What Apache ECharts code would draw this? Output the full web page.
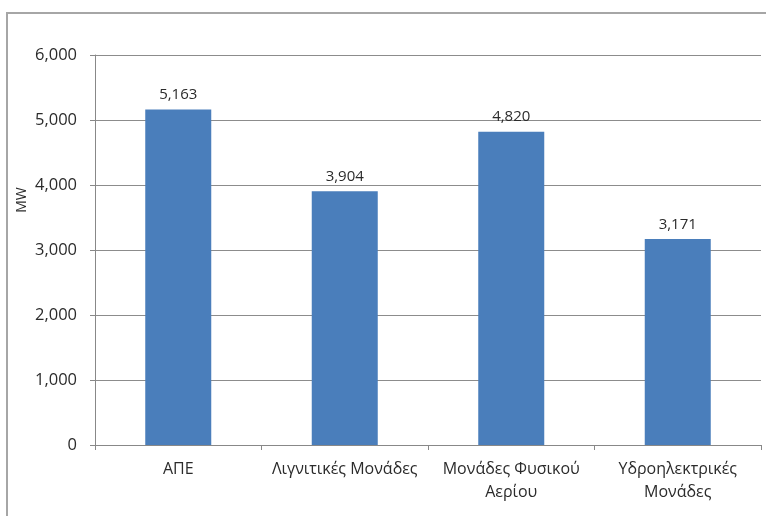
<!DOCTYPE html>
<html>
<head>
<meta charset="utf-8">
<script src="https://cdn.jsdelivr.net/npm/echarts@6/dist/echarts.min.js"></script>
<style>
  html, body { margin: 0; padding: 0; background: #ffffff; }
  #chart { width: 766px; height: 516px; }
</style>
</head>
<body>
<div id="chart"></div>
<script>
// Installed capacity by source (MW)
const categories = ['ΑΠΕ', 'Λιγνιτικές Μονάδες', 'Μονάδες Φυσικού\nΑερίου', 'Υδροηλεκτρικές\nΜονάδες'];
const capacityMW = [5163, 3904, 4820, 3171];
const yTicks = [0, 1000, 2000, 3000, 4000, 5000, 6000];

const fmt = v => Number(v).toLocaleString('en-US');
const FONT = '"Open Sans", "Noto Sans", sans-serif';
const TEXT = '#2b2b2b';

const chart = echarts.init(document.getElementById('chart'), null, { renderer: 'canvas' });

chart.setOption({
  animation: false,
  backgroundColor: '#ffffff',
  textStyle: { fontFamily: FONT },
  graphic: [{
    type: 'rect',
    shape: { x: 7, y: 13, width: 820, height: 600 },
    style: { fill: 'none', stroke: '#a6a6a6', lineWidth: 2 },
    silent: true
  }],
  grid: { left: 95, right: 5, top: 55, bottom: 71, containLabel: false },
  xAxis: {
    type: 'category',
    data: categories,
    axisLine: { lineStyle: { color: '#888888', width: 1 } },
    axisTick: { show: true, length: 5, lineStyle: { color: '#888888' } },
    axisLabel: {
      color: TEXT, fontSize: 16, fontFamily: FONT,
      margin: 13, lineHeight: 23, interval: 0
    }
  },
  yAxis: {
    type: 'value',
    min: yTicks[0],
    max: yTicks[yTicks.length - 1],
    interval: 1000,
    name: 'MW',
    nameLocation: 'middle',
    nameGap: 66,
    nameMoveOverlap: false,
    nameTextStyle: { color: TEXT, fontSize: 14, fontFamily: FONT, padding: [0, 0, 0, 100] },
    axisLine: { show: true, lineStyle: { color: '#888888', width: 1 } },
    axisTick: { show: true, length: 5, lineStyle: { color: '#888888' } },
    splitLine: { lineStyle: { color: '#8c8c8c', width: 1 } },
    axisLabel: {
      color: TEXT, fontSize: 16.5, fontFamily: FONT, margin: 18,
      formatter: v => fmt(v)
    }
  },
  series: [{
    type: 'bar',
    data: capacityMW,
    barWidth: 66,
    itemStyle: { color: '#4a7ebb' },
    label: {
      show: true,
      position: 'top',
      distance: 7,
      color: TEXT,
      fontSize: 15,
      fontFamily: FONT,
      formatter: p => fmt(p.value)
    }
  }]
});
</script>
</body>
</html>
